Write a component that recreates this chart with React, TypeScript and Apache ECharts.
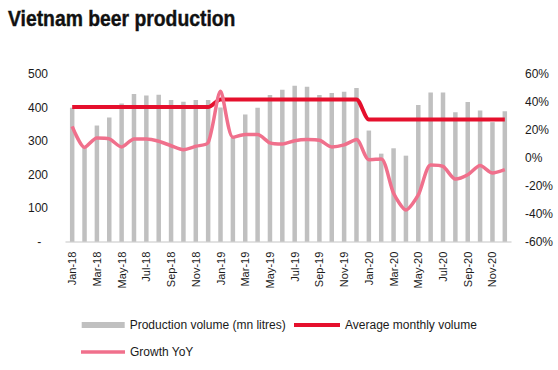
import React, { useEffect, useRef } from "react";
import * as echarts from "echarts";

const months = [
  "Jan-18","Feb-18","Mar-18","Apr-18","May-18","Jun-18","Jul-18","Aug-18","Sep-18","Oct-18","Nov-18","Dec-18",
  "Jan-19","Feb-19","Mar-19","Apr-19","May-19","Jun-19","Jul-19","Aug-19","Sep-19","Oct-19","Nov-19","Dec-19",
  "Jan-20","Feb-20","Mar-20","Apr-20","May-20","Jun-20","Jul-20","Aug-20","Sep-20","Oct-20","Nov-20","Dec-20",
];

const production = [
  400, 280, 347, 371, 413, 441, 437, 439, 423, 418, 423, 423,
  401, 310, 380, 400, 438, 454, 466, 463, 438, 444, 448, 459,
  332, 263, 279, 257, 408, 446, 446, 387, 417, 392, 357, 390,
];

const averageMonthly = [
  402, 402, 402, 402, 402, 402, 402, 402, 402, 402, 402, 402,
  425, 425, 425, 425, 425, 425, 425, 425, 425, 425, 425, 425,
  365, 365, 365, 365, 365, 365, 365, 365, 365, 365, 365, 365,
];

const growthYoY = [
  22.7, 7.6, 14.4, 13.7, 7.9, 13.7, 13.7, 12.0, 8.8, 6.0, 8.4, 11.0,
  47.9, 14.8, 16.8, 16.8, 10.8, 10.0, 12.4, 13.2, 12.7, 7.9, 9.4, 13.2,
  -1.2, -0.7, -25.2, -37.2, -26.4, -5.0, -6.0, -15.1, -12.0, -5.3, -10.8, -8.4,
];

const leftTicks = { min: 0, max: 500, interval: 100 };
const rightTicks = { min: -60, max: 60, interval: 20 };

const FONT = "'Liberation Sans', Arial, sans-serif";
const TEXT = "#1a1a1a";
const GRAY = "#c0c0c0";
const RED = "#e5102d";
const PINK = "#f0708c";

export default function App() {
  const ref = useRef<HTMLDivElement>(null);
  useEffect(() => {
    document.body.style.margin = "0";
    if (!ref.current) return;
    const chart = echarts.init(ref.current, undefined, { renderer: "svg" });
    chart.setOption({
      animation: false,
      graphic: [
        {
          type: "text",
          x: 8,
          y: 7,
          scaleX: 0.9,
          style: {
            text: "Vietnam beer production",
            fontFamily: FONT,
            fontSize: 21.5,
            fontWeight: "bold",
            fill: "#111",
            stroke: "#111",
            lineWidth: 0.4,
            textVerticalAlign: "top",
          },
        },
      ],
      grid: { left: 66, right: 47, top: 74.3, bottom: 128.3, containLabel: false },
      legend: [
        {
          data: [{ name: "Production volume (mn litres)", icon: "rect" }],
          left: 76.7,
          top: 314,
          itemWidth: 43,
          itemHeight: 6,
          textStyle: { fontFamily: FONT, fontSize: 12, color: TEXT },
        },
        {
          data: [{ name: "Average monthly volume", icon: "rect" }],
          left: 289,
          top: 314,
          itemWidth: 46,
          itemHeight: 4,
          textStyle: { fontFamily: FONT, fontSize: 12, color: TEXT },
        },
        {
          data: [{ name: "Growth YoY", icon: "rect" }],
          left: 76,
          top: 341,
          itemWidth: 44,
          itemHeight: 3.5,
          textStyle: { fontFamily: FONT, fontSize: 12, color: TEXT },
        },
      ],
      xAxis: {
        type: "category",
        data: months,
        boundaryGap: true,
        axisLine: { lineStyle: { color: "#d9d9d9", width: 1.5 } },
        axisTick: { show: false },
        axisLabel: {
          interval: 1,
          rotate: 90,
          margin: 10,
          fontFamily: FONT,
          fontSize: 11,
          color: TEXT,
        },
      },
      yAxis: [
        {
          type: "value",
          min: leftTicks.min,
          max: leftTicks.max,
          interval: leftTicks.interval,
          splitLine: { show: false },
          axisLine: { show: false },
          axisTick: { show: false },
          axisLabel: {
            margin: 18,
            fontFamily: FONT,
            fontSize: 12,
            color: TEXT,
            formatter: (v: number) => (v === 0 ? "-\u00a0\u00a0" : String(v)),
          },
        },
        {
          type: "value",
          min: rightTicks.min,
          max: rightTicks.max,
          interval: rightTicks.interval,
          splitLine: { show: false },
          axisLine: { show: false },
          axisTick: { show: false },
          axisLabel: {
            margin: 14,
            fontFamily: FONT,
            fontSize: 12,
            color: TEXT,
            formatter: (v: number) => `${Math.round(v)}%`,
          },
        },
      ],
      series: [
        {
          name: "Production volume (mn litres)",
          type: "bar",
          data: production,
          barWidth: 4.5,
          itemStyle: { color: GRAY },
          z: 1,
        },
        {
          name: "Average monthly volume",
          type: "line",
          data: averageMonthly,
          yAxisIndex: 0,
          symbol: "none",
          smooth: 0.3,
          smoothMonotone: "x",
          lineStyle: { color: RED, width: 4 },
          itemStyle: { color: RED },
          z: 2,
        },
        {
          name: "Growth YoY",
          type: "line",
          data: growthYoY,
          yAxisIndex: 1,
          symbol: "none",
          smooth: 0.25,
          lineStyle: { color: PINK, width: 3.5 },
          itemStyle: { color: PINK },
          z: 3,
        },
      ],
    });
    return () => chart.dispose();
  }, []);
  return <div ref={ref} style={{ width: 558, height: 370 }} />;
}
